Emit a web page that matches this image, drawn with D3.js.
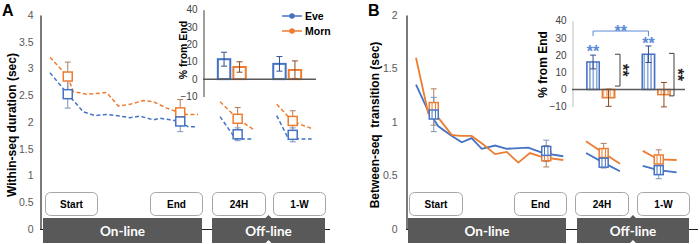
<!DOCTYPE html>
<html lang="en">
  <head>
    <meta charset="UTF-8" />
    <title>Within-seq duration and between-seq transition</title>
    <style>
      body { margin: 0; background: #fff; }
      text { font-family: "Liberation Sans", Arial, sans-serif; }
    </style>
  </head>
  <body>
    <svg id="svg" width="700" height="244"></svg>

    <script src="https://cdn.jsdelivr.net/npm/d3@7"></script>
    <script>
      const BLUE = "#4472c4";
      const ORANGE = "#ed7d31";

      // position along the session: 0 = first on-line trial, 100 = last one
      const markerPos = [12, 88, 126.8, 164];
      const markerLabels = ["Start", "End", "24H", "1-W"];

      // Panel A: within-seq duration (sec)
      const aEveOnline = [[0, 2.92], [12, 2.52], [22.5, 2.19], [30.4, 2.12], [38.3, 2.14], [47.3, 2.11], [54, 2.08], [60.8, 2.11], [69.8, 2.04], [74.3, 2.07], [81.1, 2.04], [87.8, 2.01], [93.4, 1.91], [99.1, 1.91]];
      const aMornOnline = [[0, 3.21], [12, 2.85], [15.7, 2.57], [24.8, 2.52], [38.3, 2.55], [46.1, 2.3], [54, 2.33], [63, 2.4], [69.8, 2.38], [78.8, 2.26], [87.8, 2.17], [92.4, 2.14], [100, 2.14]];
      const aEveDay = [[114.9, 2.1], [125.5, 1.68], [137.8, 1.68]];
      const aMornDay = [[114.9, 2.38], [126.8, 2.06], [137.4, 1.86]];
      const aEveWeek = [[153.2, 2.12], [161, 1.69], [176.8, 1.68]];
      const aMornWeek = [[153.2, 2.33], [164.4, 2.0], [176.8, 1.88]];
      const aEveMean = [2.52, 2.01, 1.77, 1.76];
      const aEveSem = [0.26, 0.19, 0.12, 0.13];
      const aMornMean = [2.85, 2.18, 2.06, 2.02];
      const aMornSem = [0.27, 0.24, 0.21, 0.19];
      const aTicks = [0, 0.5, 1, 1.5, 2, 2.5, 3, 3.5, 4];

      // Panel B: between-seq transition (sec)
      const bEveOnline = [[0, 1.35], [8.3, 1.1], [15.1, 0.96], [23, 0.88], [30.9, 0.81], [37.6, 0.85], [44.4, 0.75], [53.4, 0.78], [61.3, 0.75], [75.9, 0.76], [86, 0.71], [99.5, 0.68]];
      const bMornOnline = [[0, 1.6], [8.3, 1.08], [14, 1.06], [20.7, 0.94], [24.1, 0.88], [29.7, 0.87], [37.6, 0.87], [45.5, 0.79], [53.4, 0.7], [61.3, 0.72], [69.1, 0.62], [77, 0.71], [86, 0.67], [99.5, 0.645]];
      const bEveDay = [[114.9, 0.71], [126.6, 0.62], [137.8, 0.54]];
      const bMornDay = [[114.9, 0.82], [126.6, 0.71], [137.8, 0.61]];
      const bEveWeek = [[153.2, 0.59], [163.7, 0.55], [176.1, 0.53]];
      const bMornWeek = [[153.2, 0.73], [163.7, 0.65], [176.1, 0.645]];
      const bEveMean = [1.07, 0.73, 0.62, 0.55];
      const bEveSem = [0.16, 0.1, 0.05, 0.08];
      const bMornMean = [1.14, 0.68, 0.71, 0.65];
      const bMornSem = [0.17, 0.1, 0.09, 0.09];
      const bTicks = [0, 0.5, 1, 1.5, 2];

      // insets: % change from End
      const insetGroups = ["24H", "1-W"];
      const insetTicks = [-10, 0, 10, 20, 30, 40];
      const aInsetEve = [11.5, 8.8];
      const aInsetEveErr = [4, 4.2];
      const aInsetMorn = [7, 5.3];
      const aInsetMornErr = [3, 5.2];
      const bInsetEve = [16, 20.5];
      const bInsetEveErr = [4, 4.8];
      const bInsetMorn = [-4.8, -3];
      const bInsetMornErr = [5, 7.1];

      const svg = d3.select("#svg");
      const x = d3.scaleLinear().domain([0, 100]).range([50, 198]);

      const defs = svg.append("defs");
      function addHatch(id, color) {
        const p = defs
          .append("pattern")
          .attr("id", id)
          .attr("patternUnits", "userSpaceOnUse")
          .attr("width", 3.4)
          .attr("height", 10);
        p.append("rect").attr("width", 3.4).attr("height", 10).attr("fill", "#fff");
        p.append("line")
          .attr("x1", 1.7).attr("x2", 1.7)
          .attr("y1", 0).attr("y2", 10)
          .attr("stroke", color)
          .attr("stroke-width", 1);
      }
      addHatch("hatch-blue", BLUE);
      addHatch("hatch-orange", ORANGE);

      function drawPanel(cfg) {
        const g = svg.append("g").attr("transform", `translate(${cfg.offset},0)`);
        const y = d3.scaleLinear().domain([0, cfg.yMax]).range([229, 15]);

        g.append("text")
          .attr("x", 2)
          .attr("y", 16)
          .attr("font-size", 16)
          .attr("font-weight", "bold")
          .text(cfg.letter);

        g.append("text")
          .attr("transform", `translate(${cfg.titleX},125) rotate(-90)`)
          .attr("text-anchor", "middle")
          .attr("dy", "0.35em")
          .attr("font-size", 12)
          .attr("font-weight", "bold")
          .style("white-space", "pre")
          .text(cfg.title);

        // x base line, mostly hidden by the grey bars
        g.append("line")
          .attr("x1", 40)
          .attr("x2", cfg.axisEnd)
          .attr("y1", y(0) + 0.5)
          .attr("y2", y(0) + 0.5)
          .attr("stroke", "#222")
          .attr("stroke-width", 1);

        const yAxis = g
          .append("g")
          .attr("transform", "translate(40.5,0)")
          .call(
            d3.axisLeft(y)
              .tickValues(cfg.ticks)
              .tickSize(0)
              .tickSizeOuter(0)
              .tickPadding(cfg.pad)
              .tickFormat(d3.format("~g"))
          );
        yAxis.select(".domain").attr("stroke", "#222").attr("stroke-width", 1.2);
        yAxis.selectAll("text").attr("font-size", 10.5).attr("fill", "#595959");

        // grey session bars
        const bars = g.append("g");
        bars.append("rect")
          .attr("x", cfg.online[0]).attr("y", 218)
          .attr("width", cfg.online[1] - cfg.online[0]).attr("height", 25)
          .attr("fill", "#595959");
        const [o0, o1] = cfg.offline;
        const om = (o0 + o1) / 2;
        bars.append("path")
          .attr("d", `M${o0},218 L${om - 3},218 L${om},215 L${om + 3},218 L${o1},218 L${o1},243 L${om + 3},243 L${om},240 L${om - 3},243 L${o0},243 Z`)
          .attr("fill", "#595959");
        bars.selectAll("text")
          .data([["On-line", cfg.online], ["Off-line", cfg.offline]])
          .join("text")
          .attr("x", (d) => (d[1][0] + d[1][1]) / 2)
          .attr("y", 235.5)
          .attr("text-anchor", "middle")
          .attr("fill", "#fff")
          .attr("font-size", 13.5)
          .attr("font-weight", "bold")
          .style("font-family", "Lato, 'Open Sans', sans-serif")
          .text((d) => d[0]);

        // rounded label boxes
        const boxes = g.selectAll(".box").data(markerLabels).join("g").attr("class", "box");
        boxes.append("rect")
          .attr("x", (d, i) => cfg.boxes[i][0] + 0.5)
          .attr("y", 192.5)
          .attr("width", (d, i) => cfg.boxes[i][1] - cfg.boxes[i][0])
          .attr("height", 23)
          .attr("rx", 5)
          .attr("fill", "#fff")
          .attr("stroke", "#a6a6a6");
        boxes.append("text")
          .attr("x", (d, i) => (cfg.boxes[i][0] + cfg.boxes[i][1]) / 2 + 0.5)
          .attr("y", 207.5)
          .attr("text-anchor", "middle")
          .attr("font-size", 10)
          .attr("font-weight", "bold")
          .text((d) => d);

        // curves
        const line = d3.line().x((d) => x(d[0])).y((d) => y(d[1]));
        cfg.curves.forEach((c) => {
          g.append("path")
            .attr("d", line(c.points))
            .attr("fill", "none")
            .attr("stroke", c.color)
            .attr("stroke-width", cfg.dash ? 1.5 : 1.8)
            .attr("stroke-dasharray", cfg.dash);
        });

        // error bars then square markers
        const series = [
          { mean: cfg.mornMean, sem: cfg.mornSem, color: ORANGE, err: "#b07d5a" },
          { mean: cfg.eveMean, sem: cfg.eveSem, color: BLUE, err: "#7f93b8" },
        ];
        series.forEach((s) => {
          const eb = g.append("g").attr("stroke", s.err).attr("stroke-width", 1);
          markerPos.forEach((p, i) => {
            const cx = x(p);
            const lo = y(s.mean[i] - s.sem[i]);
            const hi = y(s.mean[i] + s.sem[i]);
            eb.append("line").attr("x1", cx).attr("x2", cx).attr("y1", lo).attr("y2", hi);
            eb.append("line").attr("x1", cx - 3).attr("x2", cx + 3).attr("y1", lo).attr("y2", lo);
            eb.append("line").attr("x1", cx - 3).attr("x2", cx + 3).attr("y1", hi).attr("y2", hi);
          });
        });
        series.forEach((s) => {
          markerPos.forEach((p, i) => {
            const cx = x(p);
            const cy = y(s.mean[i]);
            g.append("rect")
              .attr("x", cx - 4.5)
              .attr("y", cy - 4.5)
              .attr("width", 9)
              .attr("height", 9)
              .attr("fill", "#fff")
              .attr("stroke", s.color)
              .attr("stroke-width", 1.5);
            if (cfg.hatched) {
              [-1.7, 1.7].forEach((dx) => {
                g.append("line")
                  .attr("x1", cx + dx).attr("x2", cx + dx)
                  .attr("y1", cy - 4).attr("y2", cy + 4)
                  .attr("stroke", s.color)
                  .attr("stroke-width", 1);
              });
            }
          });
        });
      }

      function drawInset(cfg) {
        const g = svg.append("g");
        const yIn = d3.scaleLinear().domain([-10, 40]).range(cfg.yRange);
        const outer = d3.scaleBand()
          .domain(insetGroups)
          .range([cfg.axisX, cfg.axisX + 113])
          .paddingInner(0.46)
          .paddingOuter(0.25);
        const inner = d3.scaleBand()
          .domain(["Eve", "Morn"])
          .range([0, outer.bandwidth()])
          .paddingInner(0.07);

        g.append("text")
          .attr("transform", `translate(${cfg.titleX},${cfg.titleY}) rotate(-90)`)
          .attr("text-anchor", "middle")
          .attr("dy", "0.35em")
          .attr("font-size", cfg.titleSize)
          .attr("font-weight", "bold")
          .text("% from End");

        const axis = g.append("g")
          .attr("transform", `translate(${cfg.axisX + 0.5},0)`)
          .call(d3.axisLeft(yIn).tickValues(insetTicks).tickSize(0).tickSizeOuter(0).tickPadding(6));
        axis.select(".domain").attr("stroke", cfg.axisColor);
        axis.selectAll("text").attr("font-size", 10).attr("fill", "#404040");

        const series = [
          { key: "Eve", vals: cfg.eve, errs: cfg.eveErr, color: BLUE, err: "#34508c", fill: cfg.hatched ? "url(#hatch-blue)" : "#fff" },
          { key: "Morn", vals: cfg.morn, errs: cfg.mornErr, color: ORANGE, err: "#8a4b22", fill: cfg.hatched ? "url(#hatch-orange)" : "#fff" },
        ];
        series.forEach((s) => {
          insetGroups.forEach((grp, i) => {
            const v = s.vals[i];
            const bx = outer(grp) + inner(s.key);
            g.append("rect")
              .attr("x", bx + 1)
              .attr("y", yIn(Math.max(0, v)))
              .attr("width", inner.bandwidth() - 2)
              .attr("height", Math.abs(yIn(v) - yIn(0)))
              .attr("fill", s.fill)
              .attr("stroke", s.color)
              .attr("stroke-width", cfg.hatched ? 1.5 : 2);
          });
        });

        g.append("line")
          .attr("x1", cfg.axisX)
          .attr("x2", cfg.axisX + 113)
          .attr("y1", yIn(0))
          .attr("y2", yIn(0))
          .attr("stroke", "#595959")
          .attr("stroke-width", 1.5);

        series.forEach((s) => {
          insetGroups.forEach((grp, i) => {
            const cx = outer(grp) + inner(s.key) + inner.bandwidth() / 2;
            const lo = yIn(s.vals[i] - s.errs[i]);
            const hi = yIn(s.vals[i] + s.errs[i]);
            const eb = g.append("g").attr("stroke", s.err).attr("stroke-width", 1);
            eb.append("line").attr("x1", cx).attr("x2", cx).attr("y1", lo).attr("y2", hi);
            eb.append("line").attr("x1", cx - 3).attr("x2", cx + 3).attr("y1", lo).attr("y2", lo);
            eb.append("line").attr("x1", cx - 3).attr("x2", cx + 3).attr("y1", hi).attr("y2", hi);
          });
        });

        return { g, yIn, outer, inner };
      }

      drawPanel({
        offset: 0,
        letter: "A",
        title: "Within-seq duration (sec)",
        titleX: 12,
        yMax: 4,
        ticks: aTicks,
        pad: 7,
        axisEnd: 330,
        online: [43, 202],
        offline: [212, 325],
        boxes: [[45, 97], [150, 202], [212, 265], [273, 325]],
        dash: "4,2.5",
        hatched: false,
        curves: [
          { points: aMornOnline, color: ORANGE },
          { points: aEveOnline, color: BLUE },
          { points: aMornDay, color: ORANGE },
          { points: aEveDay, color: BLUE },
          { points: aMornWeek, color: ORANGE },
          { points: aEveWeek, color: BLUE },
        ],
        eveMean: aEveMean,
        eveSem: aEveSem,
        mornMean: aMornMean,
        mornSem: aMornSem,
      });

      drawPanel({
        offset: 366,
        letter: "B",
        title: "Between-seq  transition (sec)",
        titleX: 9,
        yMax: 2,
        ticks: bTicks,
        pad: 9,
        axisEnd: 332,
        online: [42, 200],
        offline: [211, 323],
        boxes: [[43, 96], [148, 200], [209, 262], [271, 323]],
        dash: null,
        hatched: true,
        curves: [
          { points: bEveOnline, color: BLUE },
          { points: bMornOnline, color: ORANGE },
          { points: bEveDay, color: BLUE },
          { points: bMornDay, color: ORANGE },
          { points: bEveWeek, color: BLUE },
          { points: bMornWeek, color: ORANGE },
        ],
        eveMean: bEveMean,
        eveSem: bEveSem,
        mornMean: bMornMean,
        mornSem: bMornSem,
      });

      const insetA = drawInset({
        axisX: 203,
        yRange: [96.5, 9.7],
        titleX: 183,
        titleY: 50,
        titleSize: 10.5,
        axisColor: "#404040",
        hatched: false,
        eve: aInsetEve,
        eveErr: aInsetEveErr,
        morn: aInsetMorn,
        mornErr: aInsetMornErr,
      });

      // legend in the A inset
      const legend = insetA.g.append("g");
      [["Eve", BLUE, 16], ["Morn", ORANGE, 31]].forEach(([name, color, ly]) => {
        legend.append("line")
          .attr("x1", 282).attr("x2", 302)
          .attr("y1", ly).attr("y2", ly)
          .attr("stroke", color).attr("stroke-width", 1.5);
        legend.append("circle").attr("cx", 292).attr("cy", ly).attr("r", 2.8).attr("fill", color);
        legend.append("text")
          .attr("x", 305).attr("y", ly + 3.7)
          .attr("font-size", 10.5).attr("font-weight", "bold")
          .text(name);
      });

      const insetB = drawInset({
        axisX: 572,
        yRange: [106.7, 20.7],
        titleX: 543,
        titleY: 64.5,
        titleSize: 12,
        axisColor: "#bfbfbf",
        hatched: true,
        eve: bInsetEve,
        eveErr: bInsetEveErr,
        morn: bInsetMorn,
        mornErr: bInsetMornErr,
      });

      // significance marks in the B inset
      const { g: bg, yIn, outer, inner } = insetB;
      const eveX = (grp) => outer(grp) + inner("Eve") + inner.bandwidth() / 2;
      const STAR_BLUE = "#5b8ad6";
      bg.append("path")
        .attr("d", `M${eveX("24H")},${yIn(31)} V${yIn(34)} H${eveX("1-W")} V${yIn(31)}`)
        .attr("fill", "none")
        .attr("stroke", STAR_BLUE)
        .attr("stroke-width", 1);
      [
        [(eveX("24H") + eveX("1-W")) / 2, yIn(34) + 6.4],
        [eveX("24H"), yIn(bInsetEve[0] + bInsetEveErr[0]) + 2],
        [eveX("1-W"), yIn(bInsetEve[1] + bInsetEveErr[1]) + 3.5],
      ].forEach(([sx, sy]) => {
        bg.append("text")
          .attr("x", sx).attr("y", sy)
          .attr("text-anchor", "middle")
          .attr("font-size", 16).attr("font-weight", "bold")
          .attr("fill", STAR_BLUE)
          .text("**");
      });

      [
        ["24H", 20.5, 2, 620, 626],
        ["1-W", 21, -3.7, 674, 681],
      ].forEach(([grp, top, bottom, bx, sx]) => {
        bg.append("path")
          .attr("d", `M${bx - 5},${yIn(top)} H${bx} V${yIn(bottom)} H${bx - 5}`)
          .attr("fill", "none")
          .attr("stroke", "#404040")
          .attr("stroke-width", 1);
        bg.append("text")
          .attr("transform", `translate(${sx},${(yIn(top) + yIn(bottom)) / 2}) rotate(90)`)
          .attr("text-anchor", "middle")
          .attr("dy", "0.57em")
          .attr("font-size", 16).attr("font-weight", "bold")
          .attr("fill", "#222")
          .text("**");
      });
    </script>
  </body>
</html>
